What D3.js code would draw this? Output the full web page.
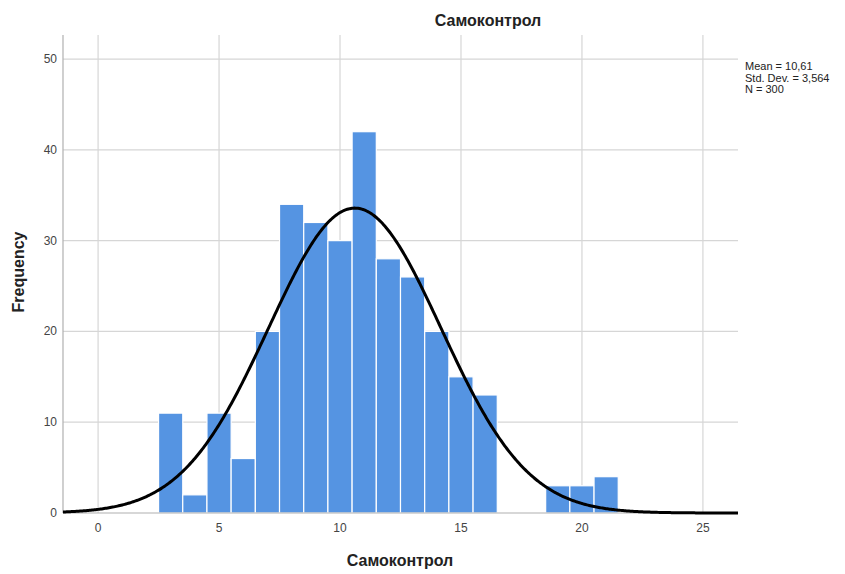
<!DOCTYPE html>
<html><head><meta charset="utf-8">
<script src="https://cdn.jsdelivr.net/npm/d3@7"></script>
<style>body{margin:0;background:#fff;} svg{display:block;font-family:Arial,"Liberation Sans",sans-serif;}</style>
</head><body>
<svg id="c" width="845" height="574"></svg>
<script>
const binCenters = [3,4,5,6,7,8,9,10,11,12,13,14,15,16,17,18,19,20,21];
const frequencies = [11,2,11,6,20,34,32,30,42,28,26,20,15,13,0,0,3,3,4];
const xTicks = [0,5,10,15,20,25];
const yTicks = [0,10,20,30,40,50];
const statsLines = ["Mean = 10,61","Std. Dev. = 3,564","N = 300"];
const mean = 10.61, sd = 3.564, n = 300, binWidth = 1;

const svg = d3.select("#c");
const L = 63, R = 738, T = 35, B = 513;
const x = d3.scaleLinear().domain([-1.45, 26.45]).range([L, R]);
const y = d3.scaleLinear().domain([0, 52.65]).range([B, T]);

const grid = svg.append("g");
grid.selectAll("line.v").data(xTicks).join("line")
  .attr("x1", d => x(d)).attr("x2", d => x(d)).attr("y1", T).attr("y2", B)
  .attr("stroke", "#d6d6d6").attr("stroke-width", 1.2);
grid.selectAll("line.h").data(yTicks.filter(d => d > 0)).join("line")
  .attr("x1", L).attr("x2", R).attr("y1", d => y(d)).attr("y2", d => y(d))
  .attr("stroke", "#d6d6d6").attr("stroke-width", 1.2);

svg.append("g").selectAll("rect").data(binCenters.map((c, i) => ({c, f: frequencies[i]})).filter(d => d.f > 0))
  .join("rect")
  .attr("x", d => x(d.c - binWidth/2)).attr("width", d => x(d.c + binWidth/2) - x(d.c - binWidth/2))
  .attr("y", d => y(d.f)).attr("height", d => y(0) - y(d.f))
  .attr("fill", "#5594e2").attr("stroke", "#ffffff").attr("stroke-width", 1.2);

// axes lines
svg.append("line").attr("x1", L).attr("x2", L).attr("y1", T).attr("y2", B).attr("stroke", "#b0b0b0").attr("stroke-width", 1.2);
svg.append("line").attr("x1", L).attr("x2", R).attr("y1", B).attr("y2", B).attr("stroke", "#b0b0b0").attr("stroke-width", 1.2);

// normal curve
const pdf = v => Math.exp(-0.5 * ((v - mean) / sd) ** 2) / (sd * Math.sqrt(2 * Math.PI));
const xs = d3.range(-1.45, 26.46, 0.05);
svg.append("path").datum(xs)
  .attr("d", d3.line().x(d => x(d)).y(d => y(n * binWidth * pdf(d))))
  .attr("fill", "none").attr("stroke", "#000").attr("stroke-width", 3);

// tick labels
svg.append("g").selectAll("text").data(xTicks).join("text")
  .attr("x", d => x(d)).attr("y", B + 19).attr("text-anchor", "middle")
  .attr("font-size", 12).attr("fill", "#444").text(d => d);
svg.append("g").selectAll("text").data(yTicks).join("text")
  .attr("x", L - 6).attr("y", d => y(d) + 4).attr("text-anchor", "end")
  .attr("font-size", 12).attr("fill", "#444").text(d => d);

// titles
svg.append("text").attr("x", 488).attr("y", 26).attr("text-anchor", "middle")
  .attr("font-size", 16).attr("font-weight", "bold").attr("fill", "#222").text("Самоконтрол");
svg.append("text").attr("x", 400).attr("y", 566).attr("text-anchor", "middle")
  .attr("font-size", 16).attr("font-weight", "bold").attr("fill", "#222").text("Самоконтрол");
svg.append("text").attr("transform", "translate(24,272) rotate(-90)").attr("text-anchor", "middle")
  .attr("font-size", 16).attr("font-weight", "bold").attr("fill", "#222").text("Frequency");

svg.append("g").selectAll("text").data(statsLines).join("text")
  .attr("x", 745).attr("y", (d, i) => 70 + i * 11.5)
  .attr("font-size", 11).attr("fill", "#222").text(d => d);
</script>
</body></html>
